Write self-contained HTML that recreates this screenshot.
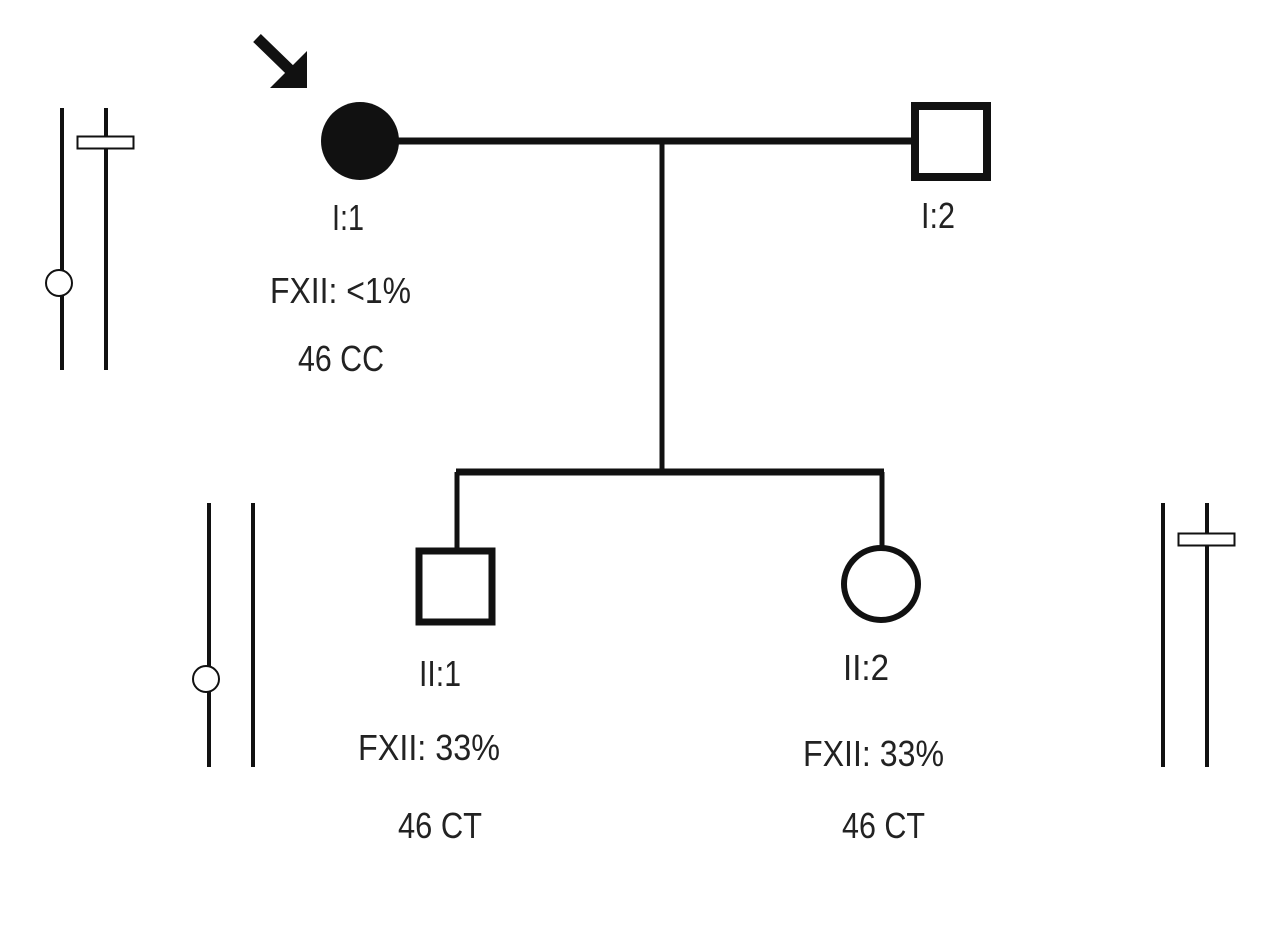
<!DOCTYPE html>
<html><head><meta charset="utf-8"><style>
html,body{margin:0;padding:0;background:#fff;}
svg{display:block;}
text{font-family:"Liberation Sans",sans-serif;font-size:36px;fill:#222;}
</style></head><body>
<svg width="1280" height="928" viewBox="0 0 1280 928" xmlns="http://www.w3.org/2000/svg">
<rect width="1280" height="928" fill="#fff"/>
<g stroke="#111" fill="none" stroke-linecap="butt">
<!-- left chromosome pair 1 -->
<line x1="62" y1="108" x2="62" y2="370" stroke-width="4"/>
<line x1="106" y1="108" x2="106" y2="370" stroke-width="4"/>
<rect x="77.5" y="136.5" width="56" height="12" fill="#fff" stroke-width="2"/>
<circle cx="59" cy="283" r="13" fill="#fff" stroke-width="2"/>
<!-- proband arrow -->
<line x1="257" y1="38" x2="290" y2="70" stroke-width="11"/>
</g>
<polygon points="270,88 307,88 307,51" fill="#111"/>
<!-- I:1 -->
<circle cx="360" cy="141" r="39" fill="#111"/>
<g stroke="#111" fill="none">
<line x1="398" y1="141" x2="912" y2="141" stroke-width="7"/>
<rect x="915" y="106" width="72" height="71" stroke-width="8" fill="#fff"/>
<line x1="662" y1="141" x2="662" y2="472" stroke-width="5"/>
<line x1="456" y1="472" x2="884" y2="472" stroke-width="7"/>
<line x1="457" y1="472" x2="457" y2="550" stroke-width="5"/>
<line x1="882" y1="472" x2="882" y2="550" stroke-width="5"/>
<rect x="419" y="551" width="73" height="71" stroke-width="7" fill="#fff"/>
<ellipse cx="881" cy="584" rx="37" ry="36" stroke-width="6" fill="#fff"/>
<!-- left chromosome pair 2 -->
<line x1="209" y1="503" x2="209" y2="767" stroke-width="4"/>
<line x1="253" y1="503" x2="253" y2="767" stroke-width="4"/>
<circle cx="206" cy="679" r="13" fill="#fff" stroke-width="2"/>
<!-- right chromosome pair -->
<line x1="1163" y1="503" x2="1163" y2="767" stroke-width="4"/>
<line x1="1207" y1="503" x2="1207" y2="767" stroke-width="4"/>
<rect x="1178.5" y="533.5" width="56" height="12" fill="#fff" stroke-width="2"/>
</g>
<text x="332" y="230" textLength="32" lengthAdjust="spacingAndGlyphs">I:1</text>
<text x="270" y="303" textLength="141" lengthAdjust="spacingAndGlyphs">FXII: &lt;1%</text>
<text x="298" y="371" textLength="86" lengthAdjust="spacingAndGlyphs">46 CC</text>
<text x="921" y="228" textLength="34" lengthAdjust="spacingAndGlyphs">I:2</text>
<text x="419" y="686" textLength="42" lengthAdjust="spacingAndGlyphs">II:1</text>
<text x="358" y="760" textLength="142" lengthAdjust="spacingAndGlyphs">FXII: 33%</text>
<text x="398" y="838" textLength="84" lengthAdjust="spacingAndGlyphs">46 CT</text>
<text x="843" y="680" textLength="46" lengthAdjust="spacingAndGlyphs">II:2</text>
<text x="803" y="766" textLength="141" lengthAdjust="spacingAndGlyphs">FXII: 33%</text>
<text x="842" y="838" textLength="83" lengthAdjust="spacingAndGlyphs">46 CT</text>
</svg>
</body></html>
